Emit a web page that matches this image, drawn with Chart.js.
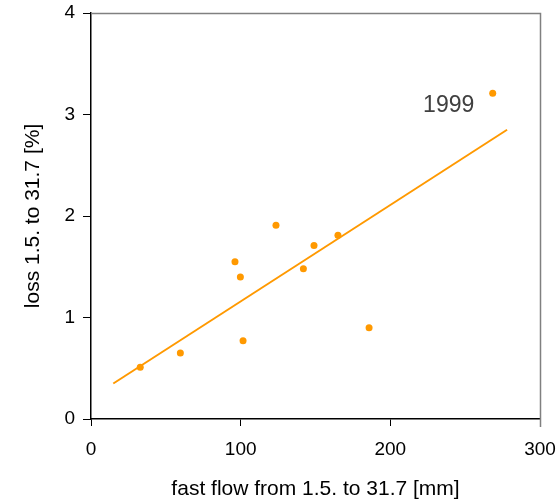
<!DOCTYPE html>
<html>
<head>
<meta charset="utf-8">
<script src="https://cdn.jsdelivr.net/npm/chart.js@4"></script>
<style>
html,body{margin:0;padding:0;background:#fff;}
#wrap{width:560px;height:503px;position:relative;}
</style>
</head>
<body>
<div id="wrap"><canvas id="c" width="560" height="503"></canvas></div>
<script>
const fastFlow = [32.9, 59.7, 96.2, 99.8, 101.6, 123.6, 141.9, 149.0, 165.0, 185.8, 268.4];
const loss = [0.51, 0.65, 1.55, 1.40, 0.77, 1.91, 1.48, 1.71, 1.81, 0.90, 3.21];
const trendX = [14.9, 278.0];
const trendY = [0.35, 2.85];
const xTicks = [0, 100, 200, 300];
const yTicks = [0, 1, 2, 3, 4];
const annotationText = "1999";
const annotationPos = {x: 239, y: 3.09};

const ORANGE = '#FF9900';

const framePlugin = {
  id: 'frame',
  afterDraw(chart) {
    const {ctx, chartArea: a} = chart;
    ctx.save();
    ctx.strokeStyle = '#808080';
    ctx.lineWidth = 1.5;
    ctx.beginPath();
    ctx.moveTo(a.left, a.top + 0.5);
    ctx.lineTo(a.right + 0.5, a.top + 0.5);
    ctx.lineTo(a.right + 0.5, a.bottom + 8);
    ctx.stroke();
    ctx.fillStyle = '#404040';
    ctx.font = '23px "Liberation Sans", Arial, sans-serif';
    ctx.textAlign = 'center';
    ctx.textBaseline = 'middle';
    const xs = chart.scales.x, ys = chart.scales.y;
    ctx.fillText(annotationText, xs.getPixelForValue(annotationPos.x), ys.getPixelForValue(annotationPos.y));
    ctx.restore();
  }
};

new Chart(document.getElementById('c'), {
  type: 'scatter',
  data: {
    datasets: [
      {
        label: 'data',
        data: fastFlow.map((x, i) => ({x, y: loss[i]})),
        backgroundColor: ORANGE,
        borderColor: ORANGE,
        pointRadius: 3.5,
        pointBorderWidth: 0
      },
      {
        label: 'trend',
        type: 'line',
        data: trendX.map((x, i) => ({x, y: trendY[i]})),
        borderColor: ORANGE,
        borderWidth: 2,
        pointRadius: 0,
        fill: false
      }
    ]
  },
  options: {
    responsive: false,
    animation: false,
    devicePixelRatio: 1,
    layout: {padding: {left: 0, right: 20, top: 13, bottom: 0}},
    plugins: {legend: {display: false}, tooltip: {enabled: false}},
    scales: {
      x: {
        type: 'linear',
        min: 0, max: 300,
        afterBuildTicks(s) { s.ticks = xTicks.map(v => ({value: v})); },
        afterFit(s) { s.height = 84; s.paddingLeft = 0; s.paddingRight = 0; },
        grid: {display: true, drawOnChartArea: false, drawTicks: true, tickLength: 7, color: '#000', tickColor: '#000'},
        border: {display: true, color: '#000', width: 1.5},
        ticks: {color: '#000', padding: 12, font: {family: '"Liberation Sans", Arial, sans-serif', size: 19}},
        title: {display: true, text: 'fast flow from 1.5. to 31.7 [mm]', color: '#000', padding: {top: 0, bottom: 1}, font: {family: '"Liberation Sans", Arial, sans-serif', size: 21}}
      },
      y: {
        type: 'linear',
        min: 0, max: 4,
        afterBuildTicks(s) { s.ticks = yTicks.map(v => ({value: v})); },
        afterFit(s) { s.width = 91; s.paddingTop = 0; s.paddingBottom = 0; },
        grid: {display: true, drawOnChartArea: false, drawTicks: true, tickLength: 8, color: '#000', tickColor: '#000'},
        border: {display: true, color: '#000', width: 1.5},
        ticks: {color: '#000', padding: 8, font: {family: '"Liberation Sans", Arial, sans-serif', size: 19}},
        title: {display: true, text: 'loss 1.5. to 31.7 [%]', color: '#000', padding: {top: 21, bottom: 0}, font: {family: '"Liberation Sans", Arial, sans-serif', size: 21}}
      }
    }
  },
  plugins: [framePlugin]
});
</script>
</body>
</html>
